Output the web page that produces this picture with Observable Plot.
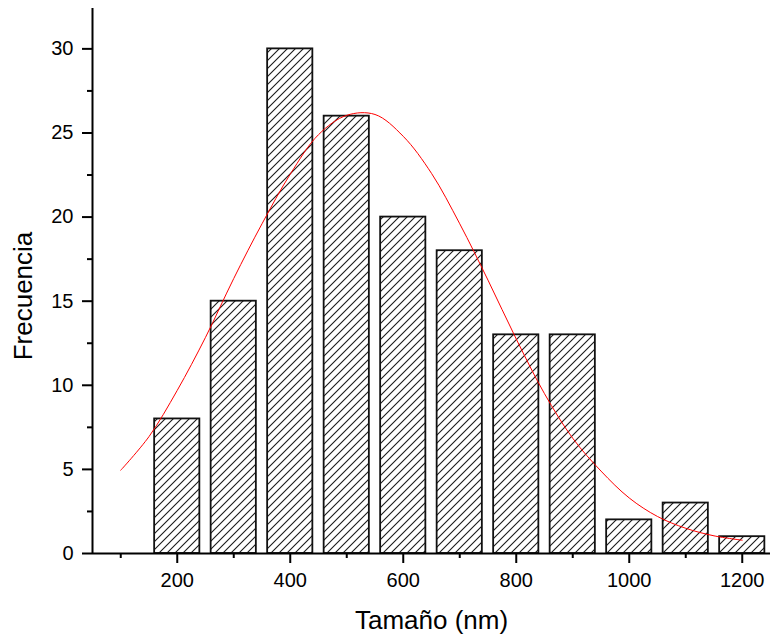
<!DOCTYPE html>
<html>
<head>
<meta charset="utf-8">
<script src="https://cdn.jsdelivr.net/npm/d3@7"></script>
<script src="https://cdn.jsdelivr.net/npm/@observablehq/plot@0.6"></script>
<style>
  html, body { margin: 0; padding: 0; background: #fff; }
  #chart svg { display: block; }
</style>
</head>
<body>
<div id="chart"></div>
<script>
// Histogram bins (centers, nm) and counts
const binCenters = [200, 300, 400, 500, 600, 700, 800, 900, 1000, 1100, 1200];
const counts     = [8, 15, 30, 26, 20, 18, 13, 13, 2, 3, 1];

// Fitted curve
const fitX = [100, 150, 200, 250, 300, 350, 400, 450, 500, 550, 600, 650, 700, 750, 800, 850, 900, 950, 1000, 1050, 1100, 1150, 1200];
const fitY = [4.95, 6.95, 9.7, 12.85, 16.35, 19.6, 22.55, 24.9, 26.05, 26.1, 24.8, 22.6, 19.6, 16.25, 12.75, 9.5, 6.85, 4.9, 3.3, 2.2, 1.5, 1.05, 0.79];

// Tick labels
const xMajorTicks = [200, 400, 600, 800, 1000, 1200];
const xMinorTicks = [100, 300, 500, 700, 900, 1100];
const yMajorTicks = [0, 5, 10, 15, 20, 25, 30];
const yMinorTicks = [2.5, 7.5, 12.5, 17.5, 22.5, 27.5];

const xTitle = "Tamaño (nm)";
const yTitle = "Frecuencia";
const binWidth = 80;

const bars = binCenters.map((c, i) => ({center: c, count: counts[i]}));
const fit = fitX.map((x, i) => ({x, y: fitY[i]}));

const font = "'Liberation Sans', Arial, Helvetica, sans-serif";

const chart = Plot.plot({
  width: 771,
  height: 642,
  marginLeft: 92,
  marginRight: 1,
  marginTop: 8,
  marginBottom: 89,
  style: {fontFamily: font, background: "#fff", overflow: "visible"},
  x: {domain: [50, 1250], axis: null},
  y: {domain: [0, 32.4], axis: null},
  marks: [
    Plot.rect(bars, {
      x1: d => d.center - binWidth / 2,
      x2: d => d.center + binWidth / 2,
      y1: 0,
      y2: "count",
      fill: "url(#hatch)",
      stroke: "#111",
      strokeWidth: 1.8
    }),
    Plot.line(fit, {x: "x", y: "y", stroke: "#ff0000", strokeWidth: 1, curve: "catmull-rom"}),
    // axis lines
    Plot.ruleY([0], {stroke: "#000", strokeWidth: 2}),
    Plot.ruleX([50], {stroke: "#000", strokeWidth: 2}),
    // x axis ticks
    Plot.axisX(xMajorTicks, {anchor: "bottom", tickSize: 10, tickPadding: 9, strokeWidth: 2, fontSize: 20, fill: "#000", tickFormat: d => String(d), label: null}),
    Plot.axisX(xMinorTicks, {anchor: "bottom", tickSize: 5, strokeWidth: 2, text: null, label: null}),
    // y axis ticks
    Plot.axisY(yMajorTicks, {anchor: "left", tickSize: 10, tickPadding: 9, strokeWidth: 2, fontSize: 20, fill: "#000", tickFormat: d => String(d), label: null}),
    Plot.axisY(yMinorTicks, {anchor: "left", tickSize: 5, strokeWidth: 2, text: null, label: null}),
    // axis titles
    Plot.text([xTitle], {frameAnchor: "bottom", text: d => d, dy: 67, lineAnchor: "middle", textAnchor: "middle", fontSize: 26, fill: "#000"}),
    Plot.text([yTitle], {frameAnchor: "left", text: d => d, rotate: -90, dx: -69, dy: 15, lineAnchor: "middle", textAnchor: "middle", fontSize: 26, fill: "#000"})
  ]
});

// hatch pattern definition
const svg = d3.select(chart);
const defs = svg.insert("defs", ":first-child");
const pat = defs.append("pattern")
  .attr("id", "hatch")
  .attr("patternUnits", "userSpaceOnUse")
  .attr("width", 8)
  .attr("height", 8);
pat.append("rect").attr("width", 8).attr("height", 8).attr("fill", "#fff");
pat.append("path")
  .attr("d", "M0,8 L8,0 M-2,2 L2,-2 M6,10 L10,6")
  .attr("stroke", "#1a1a1a")
  .attr("stroke-width", 1.1);

document.getElementById("chart").appendChild(chart);
</script>
</body>
</html>
